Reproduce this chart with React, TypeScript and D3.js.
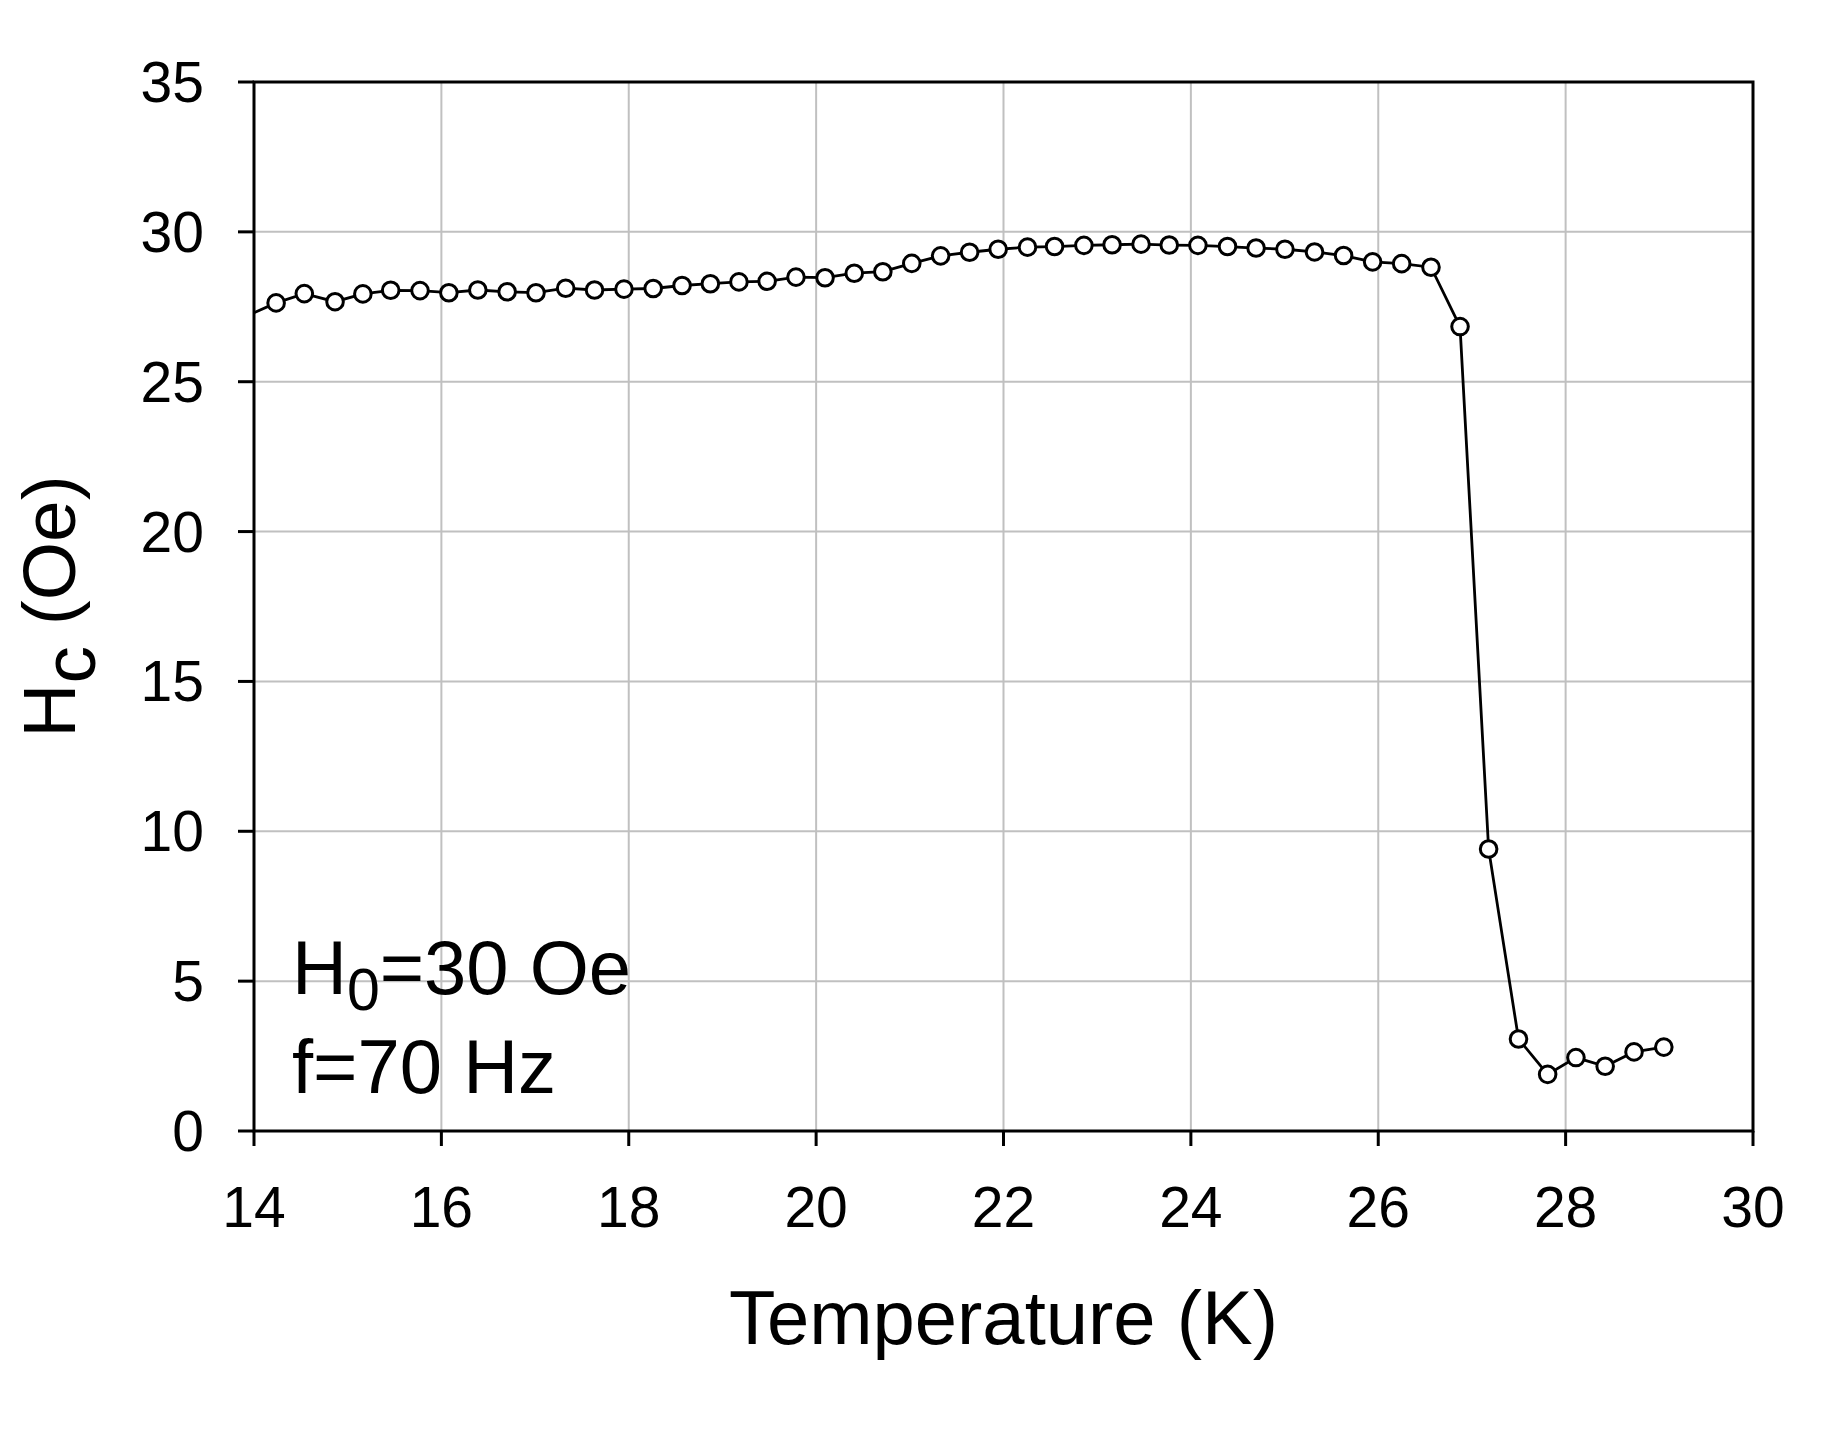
import * as d3 from "d3";

const temperature = [
  13.93, 14.236, 14.537, 14.865, 15.162, 15.459, 15.772, 16.08, 16.389, 16.702,
  17.01, 17.327, 17.635, 17.949, 18.261, 18.569, 18.871, 19.176, 19.477, 19.785,
  20.095, 20.407, 20.712, 21.021, 21.329, 21.638, 21.943, 22.256, 22.545, 22.858,
  23.159, 23.468, 23.769, 24.075, 24.391, 24.696, 25.004, 25.32, 25.63, 25.94,
  26.25, 26.563, 26.873, 27.178, 27.497, 27.808, 28.11, 28.422, 28.73, 29.048,
];
const hc = [
  27.2, 27.63, 27.94, 27.67, 27.93, 28.05, 28.04, 27.97, 28.06, 28.0,
  27.97, 28.12, 28.06, 28.09, 28.11, 28.21, 28.27, 28.33, 28.35, 28.49,
  28.47, 28.62, 28.67, 28.95, 29.2, 29.32, 29.42, 29.49, 29.51, 29.55,
  29.57, 29.59, 29.56, 29.55, 29.51, 29.46, 29.42, 29.33, 29.21, 29.0,
  28.94, 28.82, 26.84, 9.41, 3.07, 1.89, 2.45, 2.16, 2.64, 2.8,
];
const xTicks = [14, 16, 18, 20, 22, 24, 26, 28, 30];
const yTicks = [0, 5, 10, 15, 20, 25, 30, 35];

const W = 1847;
const H = 1445;
const margin = { top: 82, right: 94, bottom: 314, left: 254 };
const FONT = "'Liberation Sans', Arial, sans-serif";

export default function App() {
  const x = d3.scaleLinear().domain([14, 30]).range([margin.left, W - margin.right]);
  const y = d3.scaleLinear().domain([0, 35]).range([H - margin.bottom, margin.top]);

  const pts = temperature.map((t, i) => ({ t, h: hc[i] }));
  const line = d3
    .line<{ t: number; h: number }>()
    .x((d) => x(d.t))
    .y((d) => y(d.h));

  const x0 = x.range()[0];
  const x1 = x.range()[1];
  const y0 = y.range()[0];
  const y1 = y.range()[1];

  return (
    <svg
      width={W}
      height={H}
      viewBox={`0 0 ${W} ${H}`}
      style={{ position: "absolute", left: 0, top: 0, background: "#fff" }}
      fontFamily={FONT}
    >
      <defs>
        <clipPath id="plot">
          <rect x={x0} y={y1} width={x1 - x0} height={y0 - y1} />
        </clipPath>
      </defs>

      {/* grid */}
      {xTicks.slice(1, -1).map((t) => (
        <line key={"gx" + t} x1={x(t)} x2={x(t)} y1={y0} y2={y1} stroke="#c0c0c0" strokeWidth={2} />
      ))}
      {yTicks.slice(1, -1).map((t) => (
        <line key={"gy" + t} x1={x0} x2={x1} y1={y(t)} y2={y(t)} stroke="#c0c0c0" strokeWidth={2} />
      ))}

      {/* data */}
      <g clipPath="url(#plot)">
        <path d={line(pts) || ""} fill="none" stroke="#000" strokeWidth={2.8} />
      </g>
      {pts
        .filter((d) => d.t >= 14)
        .map((d, i) => (
          <circle key={i} cx={x(d.t)} cy={y(d.h)} r={8.3} fill="#fff" stroke="#000" strokeWidth={3} />
        ))}

      {/* frame */}
      <rect x={x0} y={y1} width={x1 - x0} height={y0 - y1} fill="none" stroke="#000" strokeWidth={3} />

      {/* y axis ticks */}
      {yTicks.map((t) => (
        <g key={"yt" + t}>
          <line x1={x0 - 16} x2={x0} y1={y(t)} y2={y(t)} stroke="#000" strokeWidth={3} />
          <text x={x0 - 50} y={y(t) + 20} textAnchor="end" fontSize={57}>
            {t}
          </text>
        </g>
      ))}

      {/* x axis ticks */}
      {xTicks.map((t) => (
        <g key={"xt" + t}>
          <line x1={x(t)} x2={x(t)} y1={y0} y2={y0 + 15} stroke="#000" strokeWidth={3} />
          <text x={x(t)} y={1227} textAnchor="middle" fontSize={57}>
            {t}
          </text>
        </g>
      ))}

      {/* axis titles */}
      <text x={(x0 + x1) / 2} y={1344} textAnchor="middle" fontSize={76}>
        Temperature (K)
      </text>
      <text transform={`translate(75,${(y0 + y1) / 2}) rotate(-90)`} textAnchor="middle" fontSize={75}>
        H
        <tspan dy={20}>c</tspan>
        <tspan dy={-20}> (Oe)</tspan>
      </text>

      {/* annotation */}
      <text x={292} y={994} fontSize={76}>
        H
        <tspan fontSize={59} dy={16}>0</tspan>
        <tspan dy={-16}>=30 Oe</tspan>
      </text>
      <text x={292} y={1093} fontSize={76}>
        f=70 Hz
      </text>
    </svg>
  );
}
